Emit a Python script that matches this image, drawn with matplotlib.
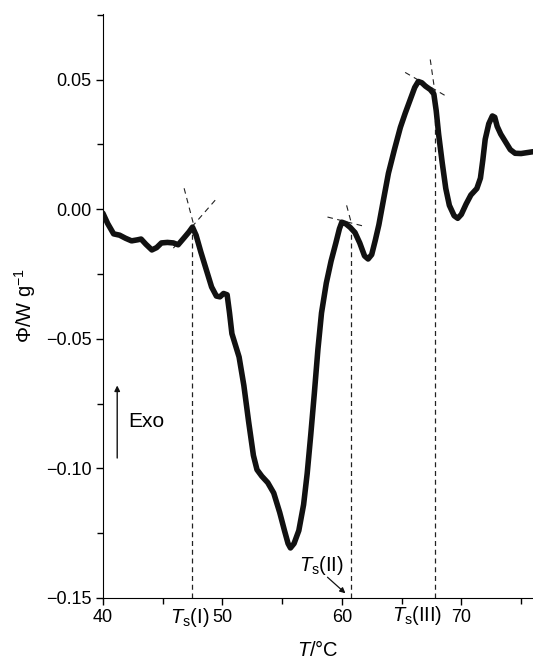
import matplotlib
matplotlib.use("Agg")
import matplotlib.pyplot as plt
from matplotlib.ticker import MultipleLocator, FuncFormatter

plt.rcParams["font.family"] = ["Liberation Sans", "DejaVu Sans"]
plt.rcParams["mathtext.fontset"] = "custom"
plt.rcParams["mathtext.rm"] = "Liberation Sans"
plt.rcParams["mathtext.it"] = "Liberation Sans:italic"

# DSC curve
temp = [40.0, 40.4, 40.9, 41.4, 41.9, 42.4, 42.9, 43.2, 43.6, 44.1, 44.5, 44.9,
        45.4, 45.9, 46.3, 46.8, 47.2, 47.5, 47.8, 48.2, 48.7, 49.1, 49.5, 49.8,
        50.1, 50.4, 50.6, 50.8, 51.1, 51.4, 51.8, 52.2, 52.6, 52.9, 53.3, 53.8,
        54.3, 54.8, 55.2, 55.5, 55.7, 56.0, 56.4, 56.8, 57.1, 57.4, 57.7, 58.0,
        58.3, 58.7, 59.1, 59.5, 59.8, 60.0, 60.3, 60.7, 61.1, 61.5, 61.9, 62.2,
        62.5, 62.8, 63.1, 63.5, 63.9, 64.4, 64.9, 65.3, 65.7, 66.1, 66.4, 66.7,
        67.0, 67.4, 67.7, 67.9, 68.1, 68.4, 68.7, 69.0, 69.4, 69.7, 70.0, 70.4,
        70.8, 71.3, 71.6, 71.8, 72.0, 72.3, 72.6, 72.8, 73.0, 73.3, 73.7, 74.1,
        74.5, 75.0, 76.0]
phi = [-0.0015, -0.0055, -0.0095, -0.0100, -0.0112, -0.0122, -0.0118, -0.0115,
       -0.0135, -0.0157, -0.0148, -0.0130, -0.0128, -0.0130, -0.0137, -0.0110,
       -0.0088, -0.0069, -0.0100, -0.0165, -0.0240, -0.0300, -0.0335, -0.0338,
       -0.0325, -0.0330, -0.0400, -0.0480, -0.0525, -0.0570, -0.0680, -0.0820,
       -0.0950, -0.1005, -0.1030, -0.1055, -0.1095, -0.1170, -0.1240, -0.1290,
       -0.1307, -0.1290, -0.1240, -0.1140, -0.1020, -0.0870, -0.0710, -0.0540,
       -0.0400, -0.0285, -0.0200, -0.0130, -0.0075, -0.0050, -0.0055, -0.0070,
       -0.0090, -0.0130, -0.0180, -0.0192, -0.0175, -0.0120, -0.0060, 0.0040,
       0.0139, 0.0230, 0.0316, 0.0370, 0.0420, 0.0470, 0.0493, 0.0488,
       0.0475, 0.0462, 0.0445, 0.0380, 0.0290, 0.0180, 0.0080, 0.0015,
       -0.0025, -0.0035, -0.0020, 0.0020, 0.0055, 0.0080, 0.0120, 0.0190,
       0.0270, 0.0330, 0.0360, 0.0355, 0.0320, 0.0290, 0.0260, 0.0230,
       0.0216, 0.0215, 0.0222]

# onset temperatures and the phi where the drop lines start
ts_temp = [47.5, 60.8, 67.8]
ts_phi = [-0.0069, -0.0055, 0.0450]

# tangent segments ((T1, T2), (phi1, phi2))
tangents = [
    ((46.8, 47.6), (0.0081, -0.0060)),
    ((49.4, 45.9), (0.0035, -0.0150)),
    ((58.8, 61.9), (-0.0030, -0.0066)),
    ((60.4, 60.8), (0.0015, -0.0054)),
    ((65.3, 68.9), (0.0528, 0.0432)),
    ((67.4, 67.8), (0.0578, 0.0450)),
]

fig = plt.figure(figsize=(5.33, 6.6), dpi=100)
ax = fig.add_axes([0.193, 0.094, 0.807, 0.885])

ax.plot(temp, phi, color="#111111", lw=4.0, solid_joinstyle="round",
        solid_capstyle="round", zorder=3)

for t, p in zip(ts_temp, ts_phi):
    ax.plot([t, t], [-0.15, p], color="#222222", lw=0.9, ls=(0, (4, 3)))

for (t1, t2), (p1, p2) in tangents:
    ax.plot([t1, t2], [p1, p2], color="#222222", lw=0.8, ls=(0, (5, 4)))

ax.set_xlim(40, 76)
ax.set_ylim(-0.15, 0.0754)
ax.xaxis.set_major_locator(MultipleLocator(10))
ax.xaxis.set_minor_locator(MultipleLocator(5))
ax.yaxis.set_major_locator(MultipleLocator(0.05))
ax.yaxis.set_minor_locator(MultipleLocator(0.025))
ax.yaxis.set_major_formatter(FuncFormatter(
    lambda v, pos: f"{v:.2f}".replace("-", "\u2212")))
ax.spines["top"].set_visible(False)
ax.spines["right"].set_visible(False)
ax.tick_params(which="major", direction="out", length=5, width=1,
               labelsize=13, pad=3)
ax.tick_params(which="minor", direction="out", length=4, width=1)

ax.set_xlabel(r"$T$/°C", fontsize=14.5, labelpad=10)
ax.set_ylabel(r"Φ/W g$^{-1}$", fontsize=14.5, labelpad=6)

# Ts labels
ax.text(47.3, -0.1530, r"$T_\mathrm{s}$(I)", fontsize=14.5, ha="center",
        va="top", clip_on=False)
ax.text(66.3, -0.1525, r"$T_\mathrm{s}$(III)", fontsize=14.5, ha="center",
        va="top", clip_on=False)
ax.text(58.3, -0.1375, r"$T_\mathrm{s}$(II)", fontsize=14.5, ha="center",
        va="center")
ax.annotate("", xy=(60.3, -0.1482), xytext=(58.8, -0.1420),
            arrowprops=dict(arrowstyle="-|>", color="#111111", lw=0.9,
                            mutation_scale=8, shrinkA=0, shrinkB=0))

# Exo arrow
ax.annotate("", xy=(41.2, -0.0680), xytext=(41.2, -0.0960),
            arrowprops=dict(arrowstyle="-|>", color="#111111", lw=1.0,
                            mutation_scale=8, shrinkA=0, shrinkB=0))
ax.text(42.1, -0.0820, "Exo", fontsize=15, ha="left", va="center")

fig.savefig("out.png", dpi=100)
